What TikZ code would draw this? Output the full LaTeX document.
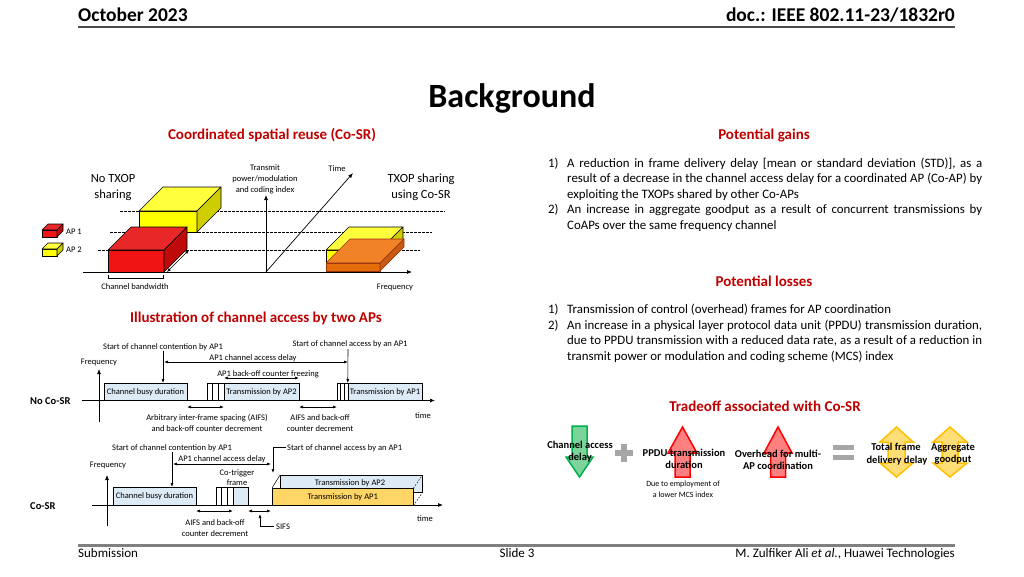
\documentclass[tikz,border=0pt]{standalone}
\usepackage{fontspec}
\setmainfont{Carlito}
\usetikzlibrary{arrows.meta}
\definecolor{hred}{RGB}{192,0,0}
\definecolor{lblue}{RGB}{221,235,247}
\definecolor{gold}{RGB}{255,214,102}
\definecolor{rfront}{RGB}{240,20,20}
\definecolor{rtop}{RGB}{232,40,40}
\definecolor{rside}{RGB}{190,10,10}
\definecolor{yfront}{RGB}{255,255,0}
\definecolor{ytop}{RGB}{255,255,60}
\definecolor{yside}{RGB}{205,205,0}
\definecolor{ofront}{RGB}{228,108,10}
\definecolor{otop}{RGB}{242,130,40}
\definecolor{oside}{RGB}{200,90,20}
\definecolor{gfill}{RGB}{125,212,155}
\definecolor{gline}{RGB}{0,176,80}
\definecolor{rfill}{RGB}{255,128,128}
\definecolor{yfill}{RGB}{255,222,120}
\definecolor{yline}{RGB}{255,192,0}
\newcommand\mycuboid[8]{%
 \filldraw[fill=#6,line width=0.6pt,line join=round] (#1,#2) rectangle ++(#3,#4);
 \filldraw[fill=#7,line width=0.6pt,line join=round] (#1,#2) -- ++(#5,-#5) -- ++(#3,0) -- ++(-#5,#5) -- cycle;
 \filldraw[fill=#8,line width=0.6pt,line join=round] (#1+#3,#2) -- ++(#5,-#5) -- ++(0,#4) -- ++(-#5,#5) -- cycle;}
\newcommand\jline[1]{\makebox[415pt][s]{\spaceskip=0.226em plus 0.6em minus 0.12em #1}}
\tikzset{
 lab/.style={inner sep=0pt, anchor=base, font=\fontsize{8.5}{10}\selectfont},
 labw/.style={lab, anchor=base west},
 head/.style={inner sep=0pt, anchor=base, font=\bfseries\fontsize{15}{17}\selectfont, text=hred},
 body/.style={inner sep=0pt, anchor=base west, font=\fontsize{12.85}{15}\selectfont},
 big/.style={inner sep=0pt, anchor=base, font=\fontsize{12.5}{14}\selectfont},
 tb/.style={inner sep=0pt, anchor=base, font=\bfseries\fontsize{10.5}{12}\selectfont},
 sm/.style={inner sep=0pt, anchor=base, font=\fontsize{8}{10}\selectfont},
 bbox/.style={draw, line width=0.5pt, fill=lblue, inner sep=0pt, font=\fontsize{8.5}{10}\selectfont},
 slot/.style={draw, line width=0.5pt, fill=white},
 arr/.style={-{Latex[length=4pt,width=3pt]}, line width=0.6pt},
 darr/.style={{Latex[length=4pt,width=3pt]}-{Latex[length=4pt,width=3pt]}, line width=0.6pt},
 axis/.style={-{Latex[length=5pt,width=4pt]}, line width=0.7pt},
 dsh/.style={line width=0.5pt, dash pattern=on 2.5pt off 1.5pt},
 hdr/.style={inner sep=0pt, font=\bfseries\fontsize{19.5}{21}\selectfont},
 ftr/.style={inner sep=0pt, font=\fontsize{13}{15}\selectfont},
}
\begin{document}
\begin{tikzpicture}[x=1pt,y=-1pt]
\useasboundingbox (0,0) rectangle (1024,576);
\fill[white] (0,0) rectangle (1024,576);
% ---------- header / footer
\node[hdr, anchor=base west] (date) at (78,21) {October 2023};
\node[hdr, anchor=base east] (doc) at (955,21) {doc.: IEEE 802.11-23/1832r0};
\draw[line width=1.5pt, black!70] (78,27) -- (955,27);
\node[inner sep=0pt, anchor=base, font=\bfseries\fontsize{34}{37}\selectfont] (title) at (512,107) {Background};
\draw[line width=3pt, black!50] (78,545) -- (955,545);
\node[ftr, anchor=base west] (sub) at (78,557) {Submission};
\node[ftr, anchor=base] (slide) at (517,557) {Slide 3};
\node[ftr, anchor=base east] (auth) at (955,557) {M. Zulfiker Ali \textit{et al.}, Huawei Technologies};
% ---------- headings
\node[head] (h1) at (272,139) {Coordinated spatial reuse (Co-SR)};
\node[head] (h2) at (764,139) {Potential gains};
\node[head] (h3) at (764,286) {Potential losses};
\node[head] (h4) at (256,322) {Illustration of channel access by two APs};
\node[head] (h5) at (765,411) {Tradeoff associated with Co-SR};
% ---------- potential gains
\node[body] (g1n) at (548,167) {1)};
\node[body] (g1a) at (567,167) {\jline{A reduction in frame delivery delay [mean or standard deviation (STD)], as a}};
\node[body] (g1b) at (567,182.5) {\jline{result of a decrease in the channel access delay for a coordinated AP (Co-AP) by}};
\node[body] (g1c) at (567,198) {exploiting the TXOPs shared by other Co-APs};
\node[body] (g2n) at (548,213.5) {2)};
\node[body] (g2a) at (567,213.5) {\jline{An increase in aggregate goodput as a result of concurrent transmissions by}};
\node[body] (g2b) at (567,229) {CoAPs over the same frequency channel};
% ---------- potential losses
\node[body] (l1n) at (548,313) {1)};
\node[body] (l1a) at (567,313) {Transmission of control (overhead) frames for AP coordination};
\node[body] (l2n) at (548,329) {2)};
\node[body] (l2a) at (567,329) {\jline{An increase in a physical layer protocol data unit (PPDU) transmission duration,}};
\node[body] (l2b) at (567,344.5) {\jline{due to PPDU transmission with a reduced data rate, as a result of a reduction in}};
\node[body] (l2c) at (567,360) {transmit power or modulation and coding scheme (MCS) index};
% ---------- Co-SR 3D diagram
\draw[dsh] (120,211) -- (445,211);
\draw[dsh] (110,232) -- (432,232);
\draw[dsh] (98,250) -- (420,250);
\mycuboid{139}{211}{58}{21}{24}{yfront}{ytop}{yside}
\mycuboid{108}{250}{56}{22}{23}{rfront}{rtop}{rside}
\mycuboid{326}{250}{54}{13}{23}{yfront}{ytop}{yside}
\begin{scope}[draw={rgb,255:red,150;green,50;blue,10}]
\mycuboid{326}{263}{54}{8}{24}{ofront}{otop}{oside}
\end{scope}
\coordinate (O) at (266,272);
\coordinate (fx0) at (83,272);
\coordinate (fx1) at (412,272);
\coordinate (py) at (266,195);
\coordinate (tz) at (353,173);
\draw[axis] (fx0) -- (fx1);
\draw[axis] (O) -- (py);
\draw[axis] (O) -- (tz);
\coordinate (cw0) at (167,272);
\coordinate (cw1) at (189,250);
\draw[darr] (cw0) -- (cw1);
\draw[line width=0.5pt] (108,275) -- (108,278) -- (163,278) -- (163,275);
\node[lab] (cbw) at (135,289) {Channel bandwidth};
\node[lab] (freq0) at (395,289) {Frequency};
\node[lab] (tp1) at (265,170) {Transmit};
\node[lab] (tp2) at (265,181) {power/modulation};
\node[lab] (tp3) at (265,192) {and coding index};
\node[lab] (time0) at (337,171) {Time};
\node[big] (nt1) at (113,182) {No TXOP};
\node[big] (nt2) at (113,198) {sharing};
\node[big] (ts1) at (421,182) {TXOP sharing};
\node[big] (ts2) at (421,198) {using Co-SR};
\mycuboid{42}{230}{15}{7}{6}{rfront}{rtop}{rside}
\mycuboid{42}{249}{15}{7}{6}{yfront}{ytop}{yside}
\node[labw] (ap1) at (66,234) {AP 1};
\node[labw] (ap2) at (66,252) {AP 2};
% ---------- No Co-SR timeline
\node[labw, font=\bfseries\fontsize{10.5}{12}\selectfont] (nocosr) at (30,404) {No Co-SR};
\coordinate (t0) at (82,400.5);
\coordinate (t1) at (435,400.5);
\draw[axis] (t0) -- (t1);
\coordinate (f0) at (99,422);
\coordinate (f1) at (99,369);
\draw[axis] (f0) -- (f1);
\node[lab] (fr1) at (99,364) {Frequency};
\node[lab] (tm1) at (423,418) {time};
\node[bbox, minimum width=83pt, minimum height=17pt] (busy1) at (145.5,391.75) {Channel busy duration};
\draw[slot] (207,383) rectangle (224,400.5);
\draw[line width=0.5pt] (212.5,383) -- (212.5,400.5) (218,383) -- (218,400.5);
\node[bbox, minimum width=75pt, minimum height=17pt] (tx2a) at (261.5,391.75) {Transmission by AP2};
\draw[slot] (337,383) rectangle (348,400.5);
\draw[line width=0.5pt] (340.7,383) -- (340.7,400.5) (344.3,383) -- (344.3,400.5);
\node[bbox, minimum width=74pt, minimum height=17pt] (tx1a) at (385,391.75) {Transmission by AP1};
\node[lab] (sc1) at (163,349) {Start of channel contention by AP1};
\node[lab] (sa1) at (350,346) {Start of channel access by an AP1};
\node[lab] (dl1) at (253,360) {AP1 channel access delay};
\node[lab] (fz1) at (268,376) {AP1 back-off counter freezing};
\coordinate (d1a) at (164,362); \coordinate (d1b) at (348,362);
\draw[darr] (d1a) -- (d1b);
\coordinate (z1a) at (224,378); \coordinate (z1b) at (299,378);
\draw[darr] (z1a) -- (z1b);
\coordinate (sc1t) at (163,383);
\draw[arr] (163,351) -- (sc1t);
\draw[arr] (348,349) -- (tx1a.north west);
\coordinate (a1a) at (187,407); \coordinate (a1b) at (224,407);
\draw[darr] (a1a) -- (a1b);
\coordinate (a2a) at (299,407); \coordinate (a2b) at (337,407);
\draw[darr] (a2a) -- (a2b);
\node[lab] (ai1) at (207,420) {Arbitrary inter-frame spacing (AIFS)};
\node[lab] (ai2) at (207,431) {and back-off counter decrement};
\node[lab] (ai3) at (320,420) {AIFS and back-off};
\node[lab] (ai4) at (320,431) {counter decrement};
% ---------- Co-SR timeline
\node[labw, font=\bfseries\fontsize{10.5}{12}\selectfont] (cosr) at (30,509) {Co-SR};
\coordinate (u0) at (92,505);
\coordinate (u1) at (443,505);
\coordinate (g0) at (107,526);
\coordinate (g1) at (107,475);
\draw[axis] (g0) -- (g1);
\node[lab] (fr2) at (108,467) {Frequency};
\node[lab] (tm2) at (425,521) {time};
\node[bbox, minimum width=83pt, minimum height=18pt] (busy2) at (154.5,496) {Channel busy duration};
\draw[slot] (216,487) rectangle (233,505);
\draw[line width=0.5pt] (221.5,487) -- (221.5,505) (227,487) -- (227,505);
\node[bbox, minimum width=15pt, minimum height=18pt] (ctf) at (240.5,496) {};
\node[lab] (ct1) at (237,475) {Co-trigger};
\node[lab] (ct2) at (237,485) {frame};
\node[bbox, minimum width=142pt, minimum height=17pt, anchor=north west] (tx2b) at (280,475) {};
\node[inner sep=0pt, anchor=base, font=\fontsize{8.5}{10}\selectfont] (tx2bl) at (350,485) {Transmission by AP2};
\node[draw, line width=0.5pt, fill=gold, inner sep=0pt, minimum width=141pt, minimum height=17pt, anchor=north west, font=\fontsize{8.5}{10}\selectfont] (tx1b) at (272,488) {Transmission by AP1};
\draw[line width=0.5pt] (tx1b.north west) -- (tx2b.north west);
\draw[line width=0.5pt, dash pattern=on 1.5pt off 1.5pt] (tx1b.north east) -- (tx2b.north east);
\draw[line width=0.5pt, dash pattern=on 1.5pt off 1.5pt] (tx1b.south east) -- (tx2b.south east);
\draw[axis] (u0) -- (u1);
\node[lab] (sc2) at (172,450) {Start of channel contention by AP1};
\node[labw] (sa2) at (287,450) {Start of channel access by an AP1};
\coordinate (sak) at (273,447);
\coordinate (sak0) at (286,447);
\coordinate (sak1) at (273,473);
\draw[arr] (sak0) -- (sak) -- (sak1);
\node[lab] (dl2) at (222,461) {AP1 channel access delay};
\coordinate (d2a) at (173,464); \coordinate (d2b) at (271,464);
\draw[darr] (d2a) -- (d2b);
\coordinate (sc2a) at (172,452); \coordinate (sc2b) at (172,487);
\draw[arr] (sc2a) -- (sc2b);
\coordinate (a3a) at (196,511); \coordinate (a3b) at (233,511);
\draw[darr] (a3a) -- (a3b);
\coordinate (s1a) at (248,511); \coordinate (s1b) at (271,511);
\draw[darr] (s1a) -- (s1b);
\node[lab] (ai5) at (215,525) {AIFS and back-off};
\node[lab] (ai6) at (215,536) {counter decrement};
\node[labw] (sifs) at (276,529) {SIFS};
\coordinate (sk0) at (274,526);
\coordinate (sk) at (260,526);
\coordinate (sk1) at (260,514);
\draw[arr] (sk0) -- (sk) -- (sk1);
% ---------- tradeoff
\filldraw[fill=gfill, draw=gline, line width=1.5pt, line join=miter]
 (572,426) -- (587,426) -- (587,457) -- (593,457) -- (579.5,477) -- (566,457) -- (572,457) -- cycle;
\fill[black!35] (615,450) rectangle (633,456);
\fill[black!35] (621,444) rectangle (627,462);
\filldraw[fill=rfill, draw=red, line width=1.5pt]
 (675,477) -- (690,477) -- (690,453) -- (697,453) -- (682.5,427) -- (668,453) -- (675,453) -- cycle;
\filldraw[fill=rfill, draw=red, line width=1.5pt]
 (770.5,477) -- (785.5,477) -- (785.5,453) -- (792,453) -- (778,427) -- (764,453) -- (770.5,453) -- cycle;
\fill[black!35] (833,445) rectangle (854,450);
\fill[black!35] (833,455) rectangle (854,460);
\filldraw[fill=yfill, draw=yline, line width=1.5pt]
 (896.5,427) -- (913,442) -- (905,442) -- (905,463) -- (913,463) -- (896.5,477) -- (880,463) -- (888,463) -- (888,442) -- (880,442) -- cycle;
\filldraw[fill=yfill, draw=yline, line width=1.5pt]
 (950,427) -- (967,442) -- (958,442) -- (958,463) -- (967,463) -- (950,477) -- (933,463) -- (942,463) -- (942,442) -- (933,442) -- cycle;
\node[tb] (ca1) at (580,448) {Channel access};
\node[tb] (ca2) at (580,460) {delay};
\node[tb] (pp1) at (684,456) {PPDU transmission};
\node[tb] (pp2) at (684,468) {duration};
\node[sm] (du1) at (683,486) {Due to employment of};
\node[sm] (du2) at (683,497) {a lower MCS index};
\node[tb] (ov1) at (778,457) {Overhead for multi-};
\node[tb] (ov2) at (778,469) {AP coordination};
\node[tb] (tf1) at (896,450) {Total frame};
\node[tb] (tf2) at (897,463) {delivery delay};
\node[tb] (ag1) at (953,450) {Aggregate};
\node[tb] (ag2) at (953,462) {goodput};
\end{tikzpicture}
\end{document}
